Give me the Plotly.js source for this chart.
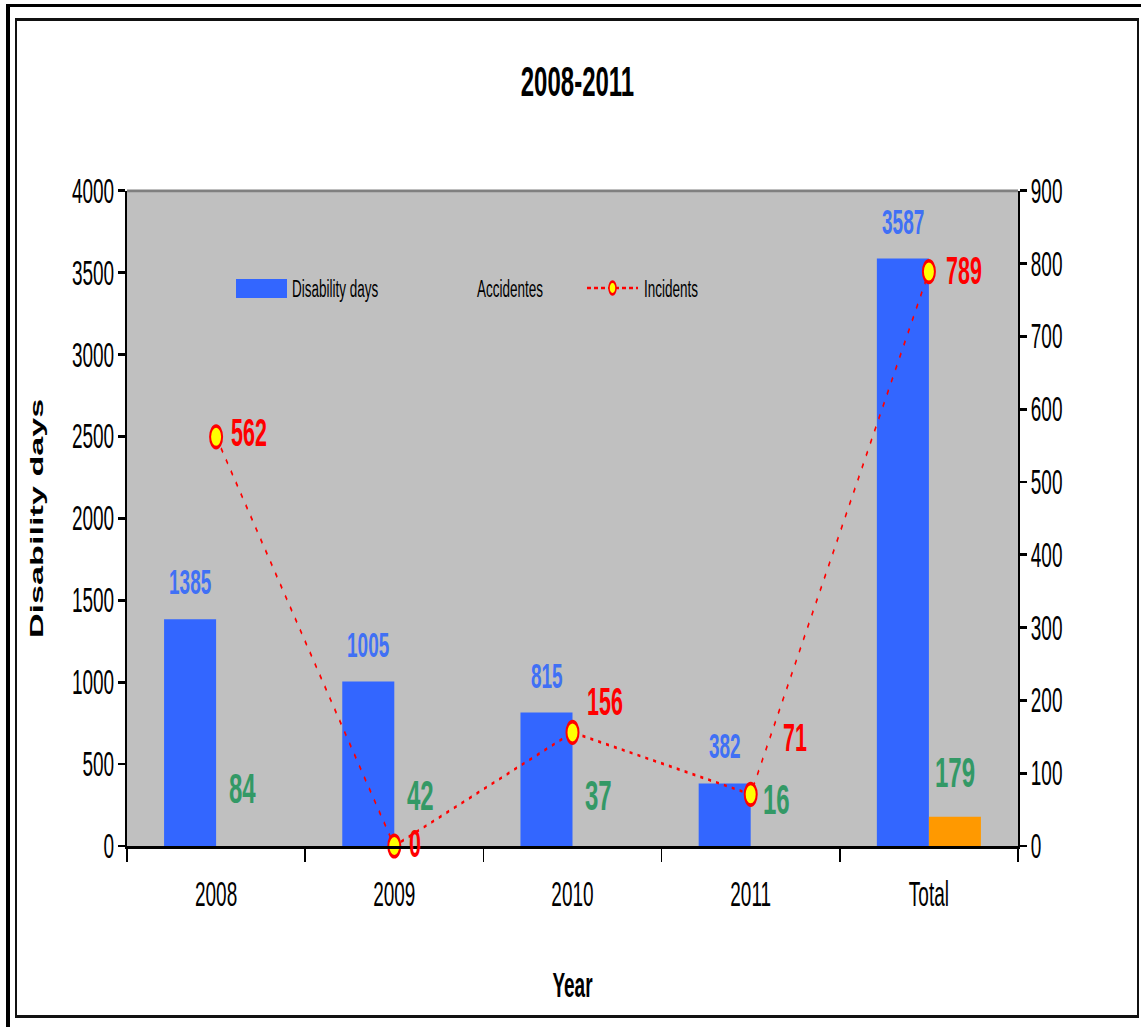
<!DOCTYPE html>
<html>
<head>
<meta charset="utf-8">
<script src="https://cdn.plot.ly/plotly-3.0.1.min.js"></script>
<style>
  html, body { margin: 0; padding: 0; background: #fff; overflow: hidden; width: 1141px; height: 1027px; }
  /* the chart is laid out at 571px height and drawn 1.8x taller */
  #wrap { position: absolute; left: 0; top: 0; width: 1141px; height: 571px; transform: scaleY(1.8); transform-origin: 0 0; }
  #chart { width: 1141px; height: 571px; }
  .frame-outer { position: absolute; left: 6px; top: 4px; width: 1200px; height: 1100px;
                 border-left: 4px solid #000; border-top: 3px solid #000; pointer-events: none; }
  .frame-inner { position: absolute; left: 15px; top: 18px; width: 1120px; height: 994px;
                 border: 2px solid #111; border-top-width: 3px; border-bottom-width: 3px; pointer-events: none; }
</style>
</head>
<body>
<div id="wrap"><div id="chart"></div></div>
<div class="frame-outer"></div>
<div class="frame-inner"></div>
<script>
// ---- data ----
const years = ['2008', '2009', '2010', '2011', 'Total'];
const disabilityDays = [1385, 1005, 815, 382, 3587];
const accidents = [84, 42, 37, 16, 179];
const incidents = [562, 0, 156, 71, 789];

// ---- layout geometry ----
const FONT = 'Liberation Sans, Arial, Helvetica, sans-serif';
const W = 1141, H = 571;
const M = { l: 127, r: 123, t: 106, b: 101 };
const PW = W - M.l - M.r, PH = H - M.t - M.b;
const px = x => (x - M.l) / PW;            // pixel x -> paper x
const py = y => (H - M.b - y) / PH;        // pixel y -> paper y

const BLUE = '#3366FF', ORANGE = '#FF9900', GREEN = '#339966', RED = '#FF0000', YELLOW = '#FFFF00';
const LABEL_BLUE = '#4070F5';
const barHalf = 26;                         // offset of each bar from its category centre

// only the Total accidents bar is filled
const accidentColors = years.map((_, i) => i === years.length - 1 ? ORANGE : 'rgba(0,0,0,0)');

const traces = [
  { type: 'bar', name: 'Disability days', x: years, y: disabilityDays, yaxis: 'y',
    marker: { color: BLUE, line: { width: 0 } }, hoverinfo: 'skip' },
  { type: 'bar', name: 'Accidentes', x: years, y: accidents, yaxis: 'y',
    marker: { color: accidentColors, line: { width: 0 } }, hoverinfo: 'skip' },
  { type: 'scatter', name: 'Incidents', x: years, y: incidents, yaxis: 'y2',
    mode: 'lines+markers', cliponaxis: false, hoverinfo: 'skip',
    line: { color: RED, width: 1.5, dash: '3px,5px' },
    marker: { size: 12, color: YELLOW, line: { color: RED, width: 2 } } }
];

// value labels (x given as category index)
const incLabelDx = [13, 13, 12, 30, 15];
const incLabelDy = [2, 1, 17, 31, 0];
const annotations = [];
years.forEach((cat, i) => {
  annotations.push({
    x: i, y: disabilityDays[i], xref: 'x', yref: 'y', text: String(disabilityDays[i]),
    showarrow: false, xanchor: 'center', yanchor: 'middle', xshift: -barHalf, yshift: 20.5,
    font: { family: FONT, size: 19, weight: 'bold', color: LABEL_BLUE }
  });
  annotations.push({
    x: i, y: accidents[i], xref: 'x', yref: 'y', text: String(accidents[i]),
    showarrow: false, xanchor: 'center', yanchor: 'middle', xshift: barHalf, yshift: 25,
    font: { family: FONT, size: 24, weight: 'bold', color: GREEN }
  });
  annotations.push({
    x: i, y: incidents[i], xref: 'x', yref: 'y2', text: String(incidents[i]),
    showarrow: false, xanchor: 'left', yanchor: 'middle', xshift: incLabelDx[i], yshift: incLabelDy[i],
    font: { family: FONT, size: 21.5, weight: 'bold', color: RED }
  });
});

// legend drawn inside the plot area
const legendY = 160;
const legendFont = { family: FONT, size: 13.5, color: '#000' };
[['Disability days', 290], ['Accidentes', 475], ['Incidents', 642]].forEach(([label, x]) => {
  annotations.push({ xref: 'paper', yref: 'paper', x: px(x), y: py(legendY), text: label,
    showarrow: false, xanchor: 'left', yanchor: 'middle', font: legendFont });
});

const shapes = [
  // plot area top border
  { type: 'line', xref: 'paper', yref: 'paper', x0: 0, x1: 1, y0: 1, y1: 1,
    line: { color: '#808080', width: 1.5 } },
  // legend keys
  { type: 'rect', xref: 'paper', yref: 'paper', x0: px(236), x1: px(287), y0: py(165.5), y1: py(155),
    fillcolor: BLUE, line: { width: 0 } },
  { type: 'line', xref: 'paper', yref: 'paper', x0: px(587), x1: px(638), y0: py(legendY), y1: py(legendY),
    line: { color: RED, width: 1.5, dash: '4px,3px' } },
  { type: 'circle', xref: 'paper', yref: 'paper', xsizemode: 'pixel', ysizemode: 'pixel',
    xanchor: px(612.5), yanchor: py(legendY), x0: -3.5, x1: 3.5, y0: -3.5, y1: 3.5,
    fillcolor: YELLOW, line: { color: RED, width: 1.5 } }
];

const tickFont = { family: FONT, size: 19, color: '#000' };
const titleFont = { family: FONT, size: 19, weight: 'bold', color: '#000' };

const layout = {
  width: W, height: H,
  margin: { l: M.l, r: M.r, t: M.t, b: M.b, pad: 0 },
  paper_bgcolor: '#fff', plot_bgcolor: '#C0C0C0',
  showlegend: false,
  barmode: 'group', bargap: 0.416, bargroupgap: 0,
  title: { text: '2008-2011', xref: 'container', x: 577.5 / W, xanchor: 'center',
           yref: 'container', y: 1 - 45 / H, yanchor: 'middle',
           font: { family: FONT, size: 24, weight: 'bold', color: '#000' } },
  xaxis: {
    type: 'category', categoryorder: 'array', categoryarray: years,
    range: [-0.5, years.length - 0.5], autorange: false,
    tickson: 'boundaries', ticks: 'outside', ticklen: 7, tickwidth: 1.5, tickcolor: '#000',
    tickangle: 0, ticklabelstandoff: 9,
    showline: true, linecolor: '#000', linewidth: 1.7, showgrid: false, zeroline: false,
    tickfont: tickFont, automargin: false,
    title: { text: 'Year', font: titleFont, standoff: 34 }
  },
  yaxis: {
    range: [0, 4000], autorange: false, tick0: 0, dtick: 500, ticks: 'outside', ticklen: 7, tickwidth: 1.5, tickcolor: '#000',
    showline: true, linecolor: '#000', linewidth: 2, showgrid: false, zeroline: false,
    tickfont: tickFont, automargin: false,
    title: { text: 'Disability days', font: titleFont, standoff: 23 }
  },
  yaxis2: {
    overlaying: 'y', side: 'right', range: [0, 900], autorange: false, tick0: 0, dtick: 100,
    ticks: 'outside', ticklen: 7, tickwidth: 1.5, tickcolor: '#000',
    showline: true, linecolor: '#000', linewidth: 2, showgrid: false, zeroline: false,
    tickfont: tickFont, automargin: false
  },
  annotations: annotations,
  shapes: shapes
};

Plotly.newPlot('chart', traces, layout, { staticPlot: true, displayModeBar: false });
</script>
</body>
</html>
